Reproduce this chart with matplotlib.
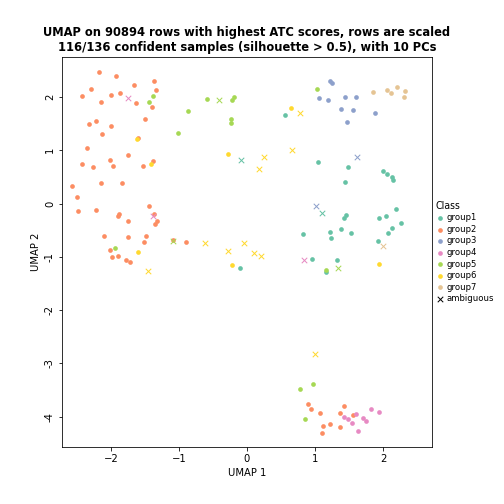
import numpy as np
import matplotlib
matplotlib.use("Agg")
import matplotlib.pyplot as plt

# points, in pixel coords, converted below
def cx(p): return [(x - 247) / 68.0 for x, y in p]
def cy(p): return [(204 - y) / 53.0 for x, y in p]

group1 = [(318,163),(348,168),(345,183),(383,172),(387,175),(392,178),(393,181),(396,209),(346,215),
          (344,218),(330,232),(341,229),(351,233),(379,218),(386,216),(401,223),(392,228),(388,233),
          (378,241),(331,238),(303,234),(312,259),(326,272),(240,268),(337,260),(285,116)]
group2 = [(99,73),(91,90),(82,97),(101,103),(111,96),(116,77),(120,94),(134,86),(136,104),(89,125),
          (96,122),(102,135),(111,127),(145,120),(152,108),(156,91),(154,82),(138,139),(82,165),
          (87,149),(128,156),(110,161),(93,168),(113,167),(143,167),(153,162),(122,184),(101,184),
          (72,187),(77,198),(78,211),(96,210),(119,214),(104,236),(118,216),(128,221),(149,206),
          (154,214),(157,221),(146,236),(144,242),(128,237),(112,257),(126,260),(118,256),(130,262),
          (155,224),(173,240),(186,242),(110,250),
          (308,403),(320,412),(323,425),(322,432),(330,423),(340,426),(344,405),(340,412),(353,414),(311,408)]
group3 = [(330,82),(332,84),(319,99),(328,101),(341,110),(345,98),(353,111),(347,123),(375,114),(356,98)]
group4 = [(344,416),(348,418),(356,413),(358,430),(363,417),(371,408),(366,420),(379,411),(352,422)]
group5 = [(149,103),(153,97),(188,112),(207,100),(231,120),(231,124),(178,134),(234,98),(326,270),
          (305,418),(300,389),(313,384),(115,248),(317,90),(232,101)]
group6 = [(228,155),(137,140),(151,165),(232,265),(379,264),(291,109),(138,252)]
group7 = [(373,93),(387,91),(391,94),(397,88),(405,92),(404,98)]
# ambiguous crosses with the colour of their nearest class
amb = [((128,99),3),((219,101),4),((241,161),0),((300,114),5),((357,158),2),((292,151),5),
       ((264,158),5),((259,170),5),((153,216),3),((173,241),4),((205,243),5),((244,243),5),
       ((228,251),5),((254,253),5),((261,256),5),((316,206),2),((322,213),0),((304,260),3),
       ((338,268),4),((383,246),6),((148,271),5),((315,354),5)]

colors = ["#66C2A5", "#FC8D62", "#8DA0CB", "#E78AC3", "#A6D854", "#FFD92F", "#E5C494"]
groups = [group1, group2, group3, group4, group5, group6, group7]
names = ["group1", "group2", "group3", "group4", "group5", "group6", "group7"]

fig = plt.figure(figsize=(7, 7), dpi=72)
ax = fig.add_axes([62/504, 57/504, (432-62)/504, (447-57)/504])
for g, c, n in zip(groups, colors, names):
    ax.scatter(cx(g), cy(g), s=22, color=c, label=n, linewidths=0)
for p, k in amb:
    ax.scatter(cx([p]), cy([p]), marker="x", s=30, color=colors[k], linewidths=1)
ax.scatter([], [], marker="x", color="black", s=30, linewidths=1, label="ambiguous")

ax.set_xlim(-2.72, 2.72)
ax.set_ylim(-4.57, 2.75)
ax.set_xticks([-2, -1, 0, 1, 2])
ax.set_yticks([-4, -3, -2, -1, 0, 1, 2])
ax.set_yticklabels(["-4", "-3", "-2", "-1", "0", "1", "2"], rotation=90, va="center")
ax.tick_params(labelsize=10)
ax.set_xlabel("UMAP 1", fontsize=10)
ax.set_ylabel("UMAP 2", fontsize=10)
ax.set_title("UMAP on 90894 rows with highest ATC scores, rows are scaled\n"
             "116/136 confident samples (silhouette > 0.5), with 10 PCs",
             fontsize=11.5, fontweight="bold")
ax.legend(title="Class", loc="center left", bbox_to_anchor=(0.995, 0.5), frameon=False,
          fontsize=8.5, title_fontsize=9.5, handletextpad=0.1, labelspacing=0.3,
          borderaxespad=0.2, handlelength=1.2, alignment="left")
fig.savefig("out.png", dpi=72)
